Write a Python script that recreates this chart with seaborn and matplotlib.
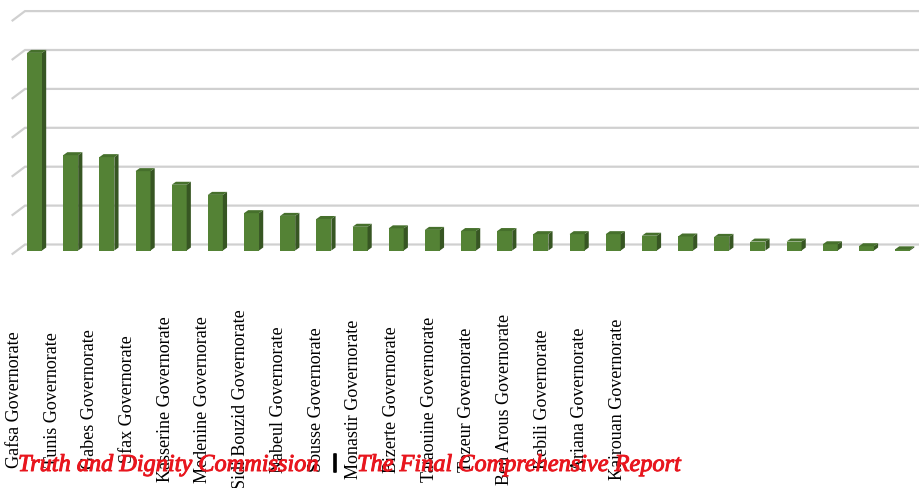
import pandas as pd
import matplotlib
matplotlib.use("Agg")
import matplotlib.pyplot as plt
import matplotlib.patheffects as pe
from matplotlib.patches import Polygon
import seaborn as sns

# Governorates that carry a label along the category axis (ranked by count)
governorates = [
    "Gafsa Governorate", "Tunis Governorate", "Gabes Governorate",
    "Sfax Governorate", "Kasserine Governorate", "Medenine Governorate",
    "Sidi Bouzid Governorate", "Nabeul Governorate", "Sousse Governorate",
    "Monastir Governorate", "Bizerte Governorate", "Tataouine Governorate",
    "Tozeur Governorate", "Ben Arous Governorate", "Kebili Governorate",
    "Ariana Governorate", "Kairouan Governorate",
]
# Bar heights for every ranked column, descending
counts = [5080, 2450, 2400, 2040, 1690, 1430, 960, 890, 810, 610, 570, 530,
          500, 500, 420, 420, 420, 380, 360, 350, 230, 230, 160, 110, 30]
# Levels of the horizontal guide lines on the back wall
grid_levels = [0, 1000, 2000, 3000, 4000, 5000, 6000]

caption_left = "Truth and Dignity Commission"
caption_sep = "|"
caption_right = "The Final Comprehensive Report"

FRONT = "#548235"
SIDE = "#375623"
TOP = "#46702c"
GRID = "#d0d0d0"
RED = "#e8161e"

W, H, DPI = 919, 489, 100

sns.set_theme(style="white")
fig = plt.figure(figsize=(W / DPI, H / DPI), dpi=DPI)
fig.patch.set_facecolor("white")

# pixel geometry of the plot
slot_px = 36.17      # distance between neighbouring columns
step_px = 38.9       # height of one guide-line step
step = 1000
first_px = 34.5      # centre of the first column
base_px = 251.5      # front baseline, measured from the top
ax_bottom_px = 260

ax = fig.add_axes([0, (H - ax_bottom_px) / H, 1, ax_bottom_px / H])

df = pd.DataFrame({"rank": range(len(counts)), "count": counts})
sns.barplot(data=df, x="rank", y="count", color=FRONT, saturation=1,
            width=15 / slot_px, linewidth=0, ax=ax, zorder=3)

ax.set_xlim(-first_px / slot_px, (W - first_px) / slot_px)
ax.set_ylim(-(ax_bottom_px - base_px) / step_px * step, base_px / step_px * step)

# depth of the pseudo-3D columns
dx = 4.2 / slot_px
dy = 3.0 / step_px * step
for bar in list(ax.patches):
    xl = bar.get_x()
    xr = xl + bar.get_width()
    h = bar.get_height()
    side = Polygon([(xr, 0), (xr + dx, dy), (xr + dx, h + dy), (xr, h)],
                   closed=True, facecolor=SIDE, edgecolor="none", zorder=3)
    top = Polygon([(xl, h), (xl + dx, h + dy), (xr + dx, h + dy), (xr, h)],
                  closed=True, facecolor=TOP, edgecolor="none", zorder=3)
    ax.add_patch(side)
    ax.add_patch(top)

# back-wall guide lines with their slanted left edge
wall_shift = 6.0 / step_px * step
slant_drop = 10.0 / step_px * step
x_slant0 = (11.7 - first_px) / slot_px
x_slant1 = (25.0 - first_px) / slot_px
x_end = (W + 5 - first_px) / slot_px
for lvl in grid_levels:
    yb = lvl + wall_shift
    ax.plot([x_slant0, x_slant1, x_end], [yb - slant_drop, yb, yb],
            color=GRID, lw=1.6, zorder=1, clip_on=False,
            solid_capstyle="butt", solid_joinstyle="miter")

# category labels
label_pos = [(14.5 - first_px) / slot_px + i * 37.7 / slot_px
             for i in range(len(governorates))]
ax.set_xticks(label_pos, governorates, rotation=90,
              fontfamily="Liberation Serif", fontsize=13, color="black")
ax.tick_params(axis="x", length=0, pad=(399.5 - ax_bottom_px) * 0.72)
for lbl in ax.get_xticklabels():
    lbl.set_verticalalignment("center")
    lbl.set_horizontalalignment("center")

ax.set_yticks([])
ax.set_xlabel("")
ax.set_ylabel("")
for s in ax.spines.values():
    s.set_visible(False)
ax.set_facecolor("white")

# caption
thick_red = [pe.withStroke(linewidth=0.7, foreground=RED)]
fig.text(18 / W, 17 / H, caption_left, color=RED, fontsize=17.5,
         fontstyle="italic", family="Liberation Serif",
         ha="left", va="baseline", path_effects=thick_red)
fig.text(335 / W, (H - 463.5) / H, caption_sep, color="black", fontsize=12.5,
         fontweight="bold", family="DejaVu Sans", ha="center", va="center",
         path_effects=[pe.withStroke(linewidth=1.2, foreground="black")])
fig.text(357 / W, 17 / H, caption_right, color=RED, fontsize=17.5,
         fontstyle="italic", family="Liberation Serif",
         ha="left", va="baseline", path_effects=thick_red)

fig.savefig("out.png", dpi=DPI)
